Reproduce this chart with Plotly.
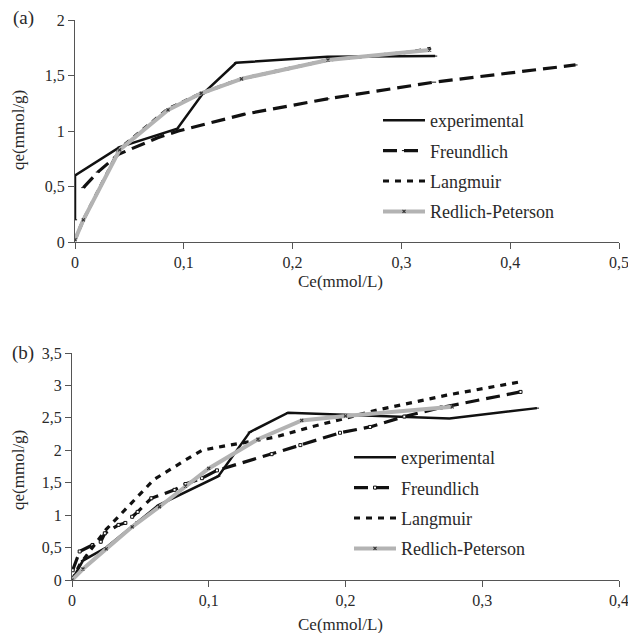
import plotly.graph_objects as go

# ---------- Panel (a) data ----------
a_exp_x = [0, 0, 0.041, 0.094, 0.117, 0.148, 0.232, 0.331]
a_exp_y = [0.2, 0.6, 0.855, 1.02, 1.33, 1.615, 1.67, 1.675]

a_fr_x = [0.0077, 0.021, 0.04, 0.076, 0.095, 0.155, 0.232, 0.33, 0.46]
a_fr_y = [0.49, 0.63, 0.79, 0.94, 1.0, 1.15, 1.29, 1.44, 1.595]

a_la_x = [0, 0.0077, 0.041, 0.0855, 0.116, 0.153, 0.2325, 0.307, 0.327]
a_la_y = [0.02, 0.2, 0.84, 1.2, 1.34, 1.47, 1.64, 1.71, 1.745]

a_rp_x = [0, 0.0077, 0.041, 0.0855, 0.116, 0.153, 0.2325, 0.326]
a_rp_y = [0.02, 0.2, 0.83, 1.19, 1.34, 1.47, 1.64, 1.73]

# ---------- Panel (b) data ----------
b_exp_x = [0, 0.008, 0.025, 0.048, 0.063, 0.107, 0.13, 0.158, 0.2, 0.276, 0.34]
b_exp_y = [0, 0.3, 0.5, 0.9, 1.15, 1.6, 2.28, 2.58, 2.55, 2.49, 2.65]

b_fr_x = [0.0005, 0.0056, 0.015, 0.021, 0.024, 0.034, 0.039, 0.044, 0.048, 0.058,
          0.075, 0.083, 0.095, 0.106, 0.146, 0.167, 0.196, 0.218, 0.243, 0.27, 0.328]
b_fr_y = [0.15, 0.44, 0.54, 0.59, 0.72, 0.85, 0.88, 0.975, 1.05, 1.26,
          1.39, 1.48, 1.57, 1.69, 1.94, 2.08, 2.27, 2.36, 2.52, 2.66, 2.9]

b_la_x = [0, 0.006, 0.025, 0.044, 0.06, 0.083, 0.095, 0.11, 0.148, 0.175, 0.223, 0.274, 0.329]
b_la_y = [0, 0.25, 0.78, 1.2, 1.55, 1.85, 2.0, 2.06, 2.2, 2.36, 2.62, 2.85, 3.06]

b_rp_x = [0, 0.008, 0.025, 0.044, 0.064, 0.083, 0.1, 0.136, 0.168, 0.2, 0.278]
b_rp_y = [0, 0.17, 0.48, 0.82, 1.13, 1.45, 1.72, 2.17, 2.46, 2.53, 2.67]

names = ["experimental", "Freundlich", "Langmuir", "Redlich-Peterson"]
a_xticks = [0, 0.1, 0.2, 0.3, 0.4, 0.5]
a_yticks = [0, 0.5, 1, 1.5, 2]
b_xticks = [0, 0.1, 0.2, 0.3, 0.4]
b_yticks = [0, 0.5, 1, 1.5, 2, 2.5, 3, 3.5]

FONT = "Liberation Serif, Times New Roman, serif"
TXT = "#2a2a2a"

fig = go.Figure()

def add_panel(xs, ys, xa, ya, legend, fr_marker, tag):
    styles = [
        dict(mode="lines+markers", line=dict(color="#111111", width=2.5),
             marker=dict(symbol="line-ew", size=3, line=dict(width=1, color="#111111"))),
        dict(mode="lines+markers", line=dict(color="#111111", width=3.2, dash="14px,7px"),
             marker=dict(symbol=fr_marker, size=3, color="white", line=dict(width=1, color="#111111"))),
        dict(mode="lines", line=dict(color="#111111", width=3.2, dash="6px,6px")),
        dict(mode="lines+markers", line=dict(color="#b3b3b3", width=4),
             marker=dict(symbol="x-thin", size=3, line=dict(width=1.2, color="#333333"))),
    ]
    for i in range(4):
        fig.add_trace(go.Scatter(
            x=xs[i], y=ys[i], name=names[i],
            legendgroup=f"{tag}{i}",
            xaxis=xa, yaxis=ya, legend=legend, **styles[i]))

add_panel([a_exp_x, a_fr_x, a_la_x, a_rp_x], [a_exp_y, a_fr_y, a_la_y, a_rp_y],
          "x", "y", "legend", "line-ew", "a")
add_panel([b_exp_x, b_fr_x, b_la_x, b_rp_x], [b_exp_y, b_fr_y, b_la_y, b_rp_y],
          "x2", "y2", "legend2", "square", "b")

W, H = 628, 633
ax_common = dict(showline=True, linecolor="#555555", linewidth=1.2, ticks="outside",
                 ticklen=6, tickcolor="#555555", showgrid=False, zeroline=False,
                 ticklabeloverflow="allow", automargin=False,
                 tickfont=dict(family=FONT, size=16, color=TXT))

leg_common = dict(xanchor="left", yanchor="top", bgcolor="rgba(0,0,0,0)",
                  font=dict(family=FONT, size=18, color=TXT),
                  tracegroupgap=4, itemwidth=42)

def ann(text, x, y, angle=0, size=17):
    return dict(text=text, x=x / W, y=1 - y / H, xref="paper", yref="paper",
                xanchor="center", yanchor="middle", showarrow=False, textangle=angle,
                font=dict(family=FONT, size=size, color=TXT))

fig.update_layout(
    width=W, height=H,
    margin=dict(l=0, r=0, t=0, b=0, autoexpand=False),
    paper_bgcolor="white", plot_bgcolor="white",
    separators=", ",
    font=dict(family=FONT, color=TXT),
    showlegend=True,
    xaxis=dict(domain=[75 / W, 619 / W], range=[0, 0.5], tickvals=a_xticks, anchor="y", **ax_common),
    yaxis=dict(domain=[1 - 242 / H, 1 - 20 / H], range=[0, 2], tickvals=a_yticks, anchor="x", **ax_common),
    xaxis2=dict(domain=[72 / W, 619 / W], range=[0, 0.4], tickvals=b_xticks, anchor="y2", **ax_common),
    yaxis2=dict(domain=[1 - 580 / H, 1 - 353 / H], range=[0, 3.5], tickvals=b_yticks, anchor="x2", **ax_common),
    legend=dict(x=378 / W, y=1 - 102 / H, **leg_common),
    legend2=dict(x=349 / W, y=1 - 439 / H, **leg_common),
    annotations=[
        ann("(a)", 23, 18, size=19),
        ann("(b)", 23, 353, size=19),
        ann("Ce(mmol/L)", 340, 281),
        ann("Ce(mmol/L)", 340, 624),
        ann("qe(mmol/g)", 18, 130, angle=-90),
        ann("qe(mmol/g)", 18, 470, angle=-90),
    ],
)

fig.write_html("out.html")
